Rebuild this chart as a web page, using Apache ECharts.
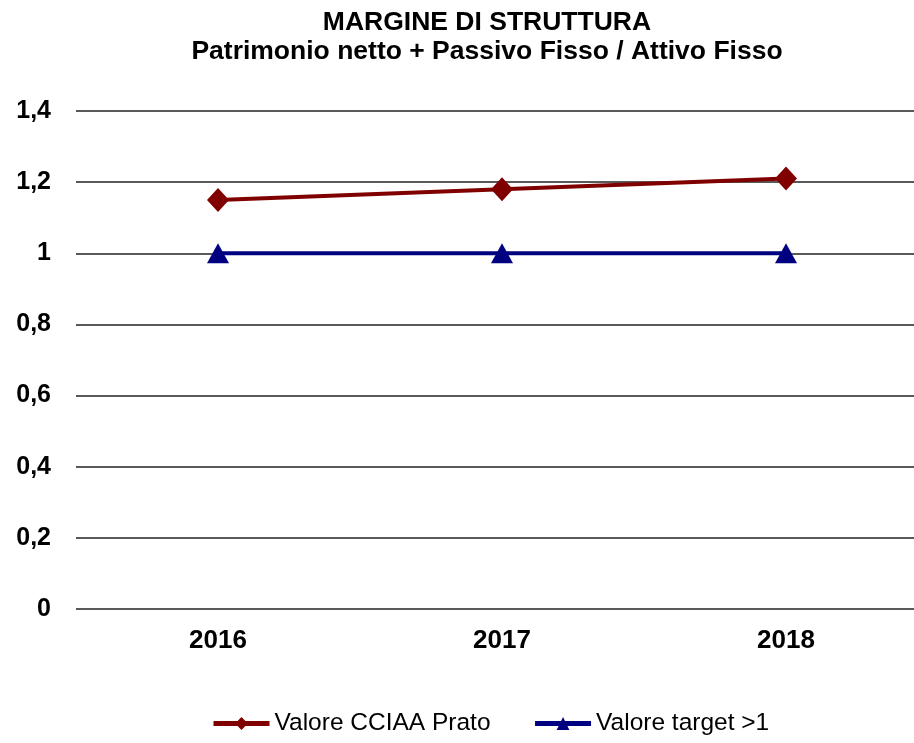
<!DOCTYPE html>
<html><head><meta charset="utf-8">
<script src="https://cdn.jsdelivr.net/npm/echarts@6/dist/echarts.min.js"></script>
<style>html,body{margin:0;padding:0;background:#fff;overflow:hidden}#c{width:928px;height:743px}</style>
</head><body><div id="c"></div>
<script>
const categories = ['2016', '2017', '2018'];
const valoreCCIAA = [1.15, 1.18, 1.21];
const valoreTarget = [1, 1, 1];
const yTicks = [0, 0.2, 0.4, 0.6, 0.8, 1, 1.2, 1.4];

const chart = echarts.init(document.getElementById('c'));
const F = '"Liberation Sans", Arial, sans-serif';
chart.setOption({
  animation: false,
  backgroundColor: '#fff',
  title: {
    text: 'MARGINE DI STRUTTURA\nPatrimonio netto + Passivo Fisso / Attivo Fisso',
    left: 482, top: 3, textAlign: 'center',
    textStyle: { fontFamily: F, fontWeight: 'bold', fontSize: 26.5, lineHeight: 29, color: '#000' }
  },
  legend: {
    bottom: 2, left: 206, itemGap: 42, itemWidth: 56, itemHeight: 16,
    textStyle: { fontFamily: F, fontSize: 24.5, color: '#000' },
    lineStyle: { width: 5 },
    data: ['Valore CCIAA Prato', 'Valore target >1']
  },
  grid: { left: 76, right: 0, top: 111, bottom: 134 },
  xAxis: {
    type: 'category', data: categories, boundaryGap: true,
    axisLine: { show: false }, axisTick: { show: false },
    axisLabel: { fontFamily: F, fontWeight: 'bold', fontSize: 26, color: '#000', margin: 19 }
  },
  yAxis: {
    type: 'value', min: 0, max: 1.4, interval: 0.2,
    axisLine: { show: false }, axisTick: { show: false },
    splitLine: { lineStyle: { color: '#222', width: 1.5 } },
    axisLabel: {
      fontFamily: F, fontWeight: 'bold', fontSize: 25, color: '#000', margin: 25,
      formatter: v => { const t = yTicks.find(x => Math.abs(x - v) < 1e-9); return String(+((t ?? v).toFixed(1))).replace('.', ','); }
    }
  },
  series: [
    { name: 'Valore CCIAA Prato', type: 'line', data: valoreCCIAA,
      symbol: 'diamond', symbolSize: [22, 24],
      lineStyle: { color: '#800000', width: 4 }, itemStyle: { color: '#800000' } },
    { name: 'Valore target >1', type: 'line', data: valoreTarget,
      symbol: 'triangle', symbolSize: [22, 20],
      lineStyle: { color: '#000080', width: 4 }, itemStyle: { color: '#000080' } }
  ]
});
</script></body></html>
